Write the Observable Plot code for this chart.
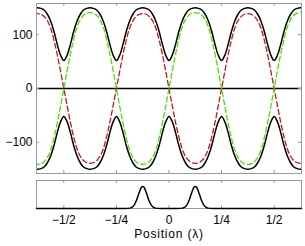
<!DOCTYPE html>
<html><head><meta charset="utf-8">
<script src="https://cdn.jsdelivr.net/npm/d3@7"></script>
<script src="https://cdn.jsdelivr.net/npm/@observablehq/plot@0.6"></script>
<style>
body{margin:0;background:#fff;}
#chart{width:305px;height:246px;overflow:hidden;}
#chart svg{display:block;}
.xlabel text{letter-spacing:0.8px;}
</style></head><body><div id="chart"></div>
<script>
// sample positions in units of 1/64 wavelength
const pos = [-41,-40,-39,-38,-37,-36,-35,-34,-33,-32,-31,-30,-29,-28,-27,-26,-25,-24,-23,-22,-21,-20,-19,-18,-17,-16,-15,-14,-13,-12,-11,-10,-9,-8,-7,-6,-5,-4,-3,-2,-1,0,1,2,3,4,5,6,7,8,9,10,11,12,13,14,15,16,17,18,19,20,21,22,23,24,25,26,27,28,29,30,31,32,33,34,35,36,37,38,39,40,41];

const greenDashed = [-140,-141,-140,-136,-128,-114,-92,-64,-33,
 0,33,64,92,114,128,136,140,141,140,136,128,114,92,64,33,
 0,-33,-64,-92,-114,-128,-136,-140,-141,-140,-136,-128,-114,-92,-64,-33,
 0,33,64,92,114,128,136,140,141,140,136,128,114,92,64,33,
 0,-33,-64,-92,-114,-128,-136,-140,-141,-140,-136,-128,-114,-92,-64,-33,
 0,33,64,92,114,128,136,140,142,141];

const redDashed = [138,139,138,134,126,112,90,63,32,
 0,-32,-63,-90,-112,-126,-134,-138,-139,-138,-134,-126,-112,-90,-63,-32,
 0,32,63,90,112,126,134,138,139,138,134,126,112,90,63,32,
 0,-32,-63,-90,-112,-126,-134,-138,-139,-138,-134,-126,-112,-90,-63,-32,
 0,32,63,90,112,126,134,138,139,138,134,126,112,90,63,32,
 0,-32,-63,-90,-112,-126,-134,-138,-139,-138];

const blackUpper = [149,150,149,146,138,125,106,82,62,
 52,62,82,106,125,138,146,149,150,149,146,138,125,106,82,62,
 52,62,82,106,125,138,146,149,150,149,146,138,125,106,82,62,
 52,62,82,106,125,138,146,149,150,149,146,138,125,106,82,62,
 52,62,82,106,125,138,146,149,150,149,146,138,125,106,82,62,
 52,62,82,106,125,138,146,149,150,149];

const blackLower = [-149,-150,-149,-146,-138,-125,-106,-82,-62,
 -52,-62,-82,-106,-125,-138,-146,-149,-150,-149,-146,-138,-125,-106,-82,-62,
 -52,-62,-82,-106,-125,-138,-146,-149,-150,-149,-146,-138,-125,-106,-82,-62,
 -52,-62,-82,-106,-125,-138,-146,-149,-150,-149,-146,-138,-125,-106,-82,-62,
 -52,-62,-82,-106,-125,-138,-146,-149,-150,-149,-146,-138,-125,-106,-82,-62,
 -52,-62,-82,-106,-125,-138,-146,-149,-150,-149];

// lower panel density (positions in wavelength)
const probX = [-0.63,-0.21,-0.185,-0.175,-0.165,-0.16,-0.155,-0.15,-0.145,-0.14,-0.135,-0.13,-0.125,-0.12,-0.115,-0.11,-0.105,-0.1,-0.095,-0.09,-0.085,-0.075,-0.065,-0.04,
 0.04,0.065,0.075,0.085,0.09,0.095,0.1,0.105,0.11,0.115,0.12,0.125,0.13,0.135,0.14,0.145,0.15,0.155,0.16,0.165,0.175,0.185,0.21,0.63];
const probY = [0,0,0.017,0.059,0.163,0.249,0.36,0.492,0.635,0.775,0.893,0.972,1,0.972,0.893,0.775,0.635,0.492,0.36,0.249,0.163,0.059,0.017,0,
 0,0.017,0.059,0.163,0.249,0.36,0.492,0.635,0.775,0.893,0.972,1,0.972,0.893,0.775,0.635,0.492,0.36,0.249,0.163,0.059,0.017,0,0];

const xTicks = [-0.5,-0.25,0,0.25,0.5];
const xTickLabels = ["\u22121/2","\u22121/4","0","1/4","1/2"];
const yTicks = [-100,0,100];
const yTickLabels = ["\u2212100","0","100"];
const xLabel = "Position (\u03bb)";

const toRows = (vals, s) => pos.map((p, i) => ({x: p / 64, y: vals[i], s}));
const blackRows = toRows(blackUpper, "up").concat(toRows(blackLower, "lo"));
const redRows = toRows(redDashed, "red");
const greenRows = toRows(greenDashed, "green");
const probRows = probX.map((x, i) => ({x, y: probY[i]}));

const W = 305, ML = 36, MR = 4;
const xDomain = [-0.63, 0.63];
const frameColor = "#9a9a9a";
const style = {fontFamily: "'Liberation Sans', Arial, sans-serif", fontSize: "12px", background: "#fff", color: "#000"};

const topH = 176, topMT = 3, topMB = 3;
const topInner = topH - topMT - topMB;
const innerW = W - ML - MR;

const topPlot = Plot.plot({
  width: W, height: topH, marginLeft: ML, marginRight: MR, marginTop: topMT, marginBottom: topMB,
  style,
  x: {domain: xDomain, axis: null},
  y: {domain: [-158, 158]},
  marks: [
    Plot.ruleY([0], {stroke: "#000", strokeWidth: 1.3}),
    Plot.line(blackRows, {x: "x", y: "y", z: "s", stroke: "#000", strokeWidth: 1.5, curve: "catmull-rom", clip: true}),
    Plot.line(redRows, {x: "x", y: "y", stroke: "#c81414", strokeWidth: 1.3, strokeDasharray: "5,3", curve: "catmull-rom", clip: true}),
    Plot.line(greenRows, {x: "x", y: "y", stroke: "#4ee000", strokeWidth: 1.3, strokeDasharray: "5,3", curve: "catmull-rom", clip: true}),
    Plot.tickY(yTicks, {stroke: frameColor, insetRight: innerW - 3}),
    Plot.tickY(yTicks, {stroke: frameColor, insetLeft: innerW - 3}),
    Plot.tickX(xTicks, {stroke: frameColor, insetTop: topInner - 3}),
    Plot.tickX(xTicks, {stroke: frameColor, insetBottom: topInner - 3}),
    Plot.axisY(yTicks, {tickSize: 0, tickPadding: 4, tickFormat: d => yTickLabels[yTicks.indexOf(d)], label: null}),
    Plot.frame({stroke: frameColor})
  ]
});

const botH = 70, botMT = 4, botMB = 38;
const botInner = botH - botMT - botMB;
const botPlot = Plot.plot({
  width: W, height: botH, marginLeft: ML, marginRight: MR, marginTop: botMT, marginBottom: botMB,
  style,
  x: {domain: xDomain},
  y: {domain: [0, 1.27], axis: null},
  marks: [
    Plot.tickX(xTicks, {stroke: frameColor, insetTop: botInner - 3}),
    Plot.tickX(xTicks, {stroke: frameColor, insetBottom: botInner - 3}),
    Plot.frame({stroke: frameColor}),
    Plot.line(probRows, {x: "x", y: "y", stroke: "#000", strokeWidth: 1.5, curve: "monotone-x"}),
    Plot.axisX(xTicks, {tickSize: 0, tickPadding: 7, tickFormat: d => xTickLabels[xTicks.indexOf(d)], label: null}),
    Plot.text([xLabel], {frameAnchor: "bottom", dy: 29.5, fill: "#000", fontSize: 12, className: "xlabel"})
  ]
});

const el = document.getElementById("chart");
el.appendChild(topPlot);
el.appendChild(botPlot);
</script>
</body></html>
